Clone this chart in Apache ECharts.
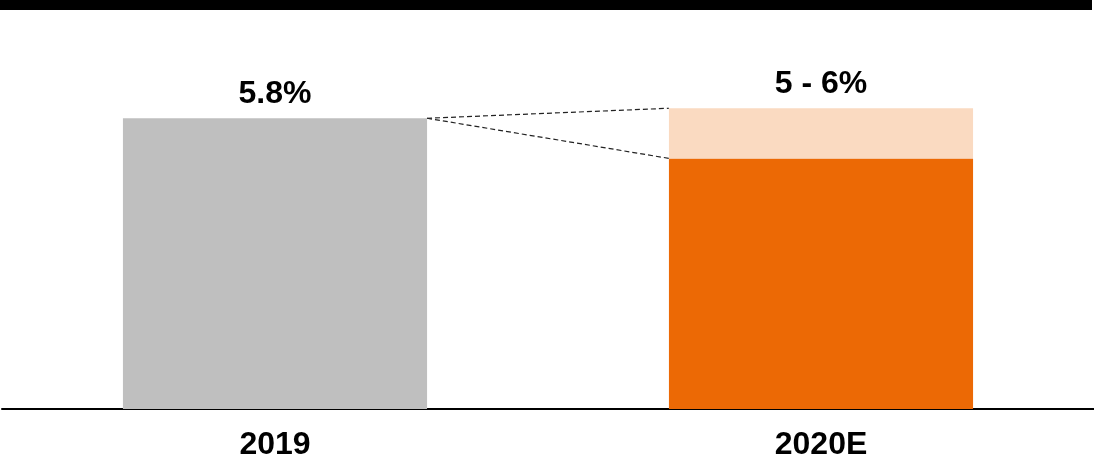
<!DOCTYPE html>
<html>
<head>
<meta charset="utf-8">
<script src="https://cdn.jsdelivr.net/npm/echarts@6/dist/echarts.min.js"></script>
<style>
  html, body { margin: 0; padding: 0; background: #ffffff; }
  #chart { width: 1094px; height: 462px; }
</style>
</head>
<body>
<div id="chart"></div>
<script>
// Categories and values
const categories = ['2019', '2020E'];
const lowValues = [5.8, 5];      // solid part of each bar
const highValues = [5.8, 6];     // top of the range
const valueLabels = ['5.8%', '5 - 6%'];
const baseColors = ['#BFBFBF', '#EC6905'];
const rangeColor = '#FADAC1';

const rangeValues = highValues.map((h, i) => +(h - lowValues[i]).toFixed(2));
const BAR_RATIO = 0.557;

const chart = echarts.init(document.getElementById('chart'), null, { renderer: 'canvas' });

const labelFont = {
  fontFamily: '"Liberation Sans", Arial, sans-serif',
  fontWeight: 'bold',
  fontSize: 32,
  color: '#000000'
};

chart.setOption({
  animation: false,
  backgroundColor: '#ffffff',
  graphic: [{
    type: 'rect',
    shape: { x: 0, y: 0, width: 1092, height: 10 },
    style: { fill: '#000000' }
  }],
  grid: { left: 2, right: 0, top: 8, bottom: 53, containLabel: false },
  xAxis: {
    type: 'category',
    data: categories,
    axisLine: { show: true, lineStyle: { color: '#000000', width: 2 } },
    axisTick: { show: false },
    axisLabel: Object.assign({ margin: 20 }, labelFont)
  },
  yAxis: {
    type: 'value',
    min: 0,
    max: 8,
    show: false,
    splitLine: { show: false }
  },
  series: [
    {
      name: 'low',
      type: 'bar',
      stack: 'v',
      barWidth: (BAR_RATIO * 100) + '%',
      data: lowValues.map((v, i) => ({
        value: v,
        itemStyle: { color: baseColors[i] },
        label: {
          show: rangeValues[i] === 0,
          position: 'top',
          distance: 8,
          formatter: valueLabels[i]
        }
      })),
      label: labelFont
    },
    {
      name: 'range',
      type: 'bar',
      stack: 'v',
      barWidth: (BAR_RATIO * 100) + '%',
      data: rangeValues.map((v, i) => ({
        value: v === 0 ? '-' : v,
        itemStyle: { color: rangeColor },
        label: {
          show: v !== 0,
          position: 'top',
          distance: 8,
          formatter: valueLabels[i]
        }
      })),
      label: labelFont
    },
    {
      // dashed connectors from the 2019 bar top to both ends of the 2020E range
      name: 'connector',
      type: 'custom',
      silent: true,
      z: 5,
      data: [
        [0, highValues[0], 1, highValues[1]],
        [0, highValues[0], 1, lowValues[1]]
      ],
      encode: { x: [0, 2], y: [1, 3] },
      renderItem: function (params, api) {
        const p0 = api.coord([api.value(0), api.value(1)]);
        const p1 = api.coord([api.value(2), api.value(3)]);
        const half = api.size([1, 0])[0] * BAR_RATIO / 2;
        return {
          type: 'line',
          shape: { x1: p0[0] + half, y1: p0[1], x2: p1[0] - half, y2: p1[1] },
          style: { stroke: '#222222', lineWidth: 1.2, lineDash: [5, 3], fill: null }
        };
      }
    }
  ]
});
</script>
</body>
</html>
